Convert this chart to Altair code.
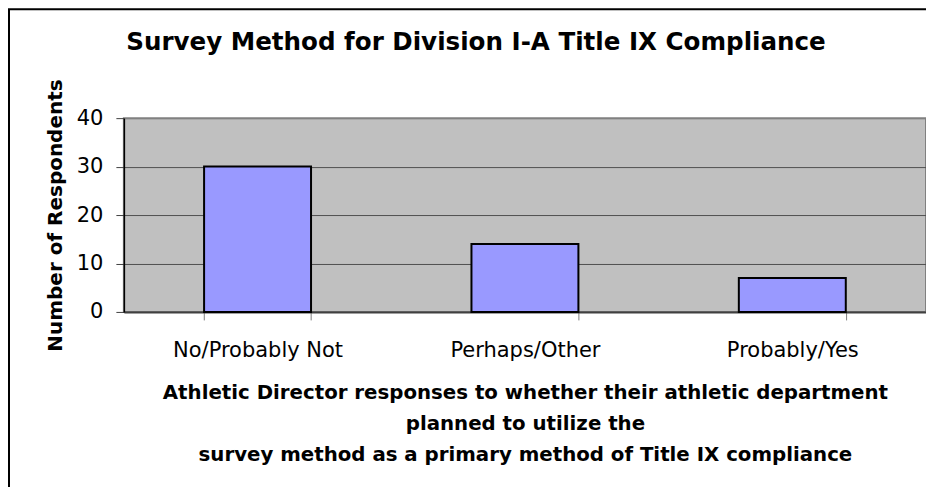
import altair as alt
import pandas as pd

categories = ["No/Probably Not", "Perhaps/Other", "Probably/Yes"]
respondents = [30, 14, 7]
y_ticks = [0, 10, 20, 30, 40]

title_text = "Survey Method for Division I-A Title IX Compliance"
x_title_lines = [
    "Athletic Director responses to whether their athletic department",
    "planned to utilize the",
    "survey method as a primary method of Title IX compliance",
]
y_title_text = "Number of Respondents"

df = pd.DataFrame({"category": categories, "respondents": respondents})

W, H = 803, 194
FONT = "DejaVu Sans"

bars = alt.Chart(df).mark_bar(color="#9999FF", stroke="black", strokeWidth=2).encode(
    x=alt.X(
        "category:N",
        sort=categories,
        scale=alt.Scale(paddingInner=0.6, paddingOuter=0.3),
        axis=alt.Axis(
            title=x_title_lines,
            labelAngle=0,
            labelFont=FONT,
            labelFontSize=21,
            labelColor="black",
            labelPadding=20,
            labelBaseline="top",
            tickBand="extent",
            tickSize=8,
            tickColor="#808080",
            domainColor="#404040",
            domainWidth=2,
            titleFont=FONT,
            titleFontSize=19.8,
            titleFontWeight="bold",
            titleLineHeight=31,
            titleX=W / 2,
            titleY=87,
            titleBaseline="alphabetic",
            titleAlign="center",
            titleColor="black",
        ),
    ),
    y=alt.Y(
        "respondents:Q",
        scale=alt.Scale(domain=[0, 40]),
        axis=alt.Axis(
            values=y_ticks,
            title=y_title_text,
            grid=True,
            gridColor=alt.condition("datum.value >= 40", alt.value("#808080"), alt.value("#505050")),
            gridWidth=1,
            tickSize=8,
            tickColor="#404040",
            domainColor="black",
            domainWidth=1.5,
            labelFont=FONT,
            labelFontSize=21,
            labelPadding=13,
            labelColor="black",
            titleFont=FONT,
            titleFontSize=20,
            titleFontWeight="bold",
            titleColor="black",
            titleX=-62,
            titleY=H / 2,
            titleBaseline="alphabetic",
            titleAlign="center",
        ),
    ),
)

border = alt.Chart(alt.Data(values=[{}])).mark_rect(
    fillOpacity=0, stroke="black", strokeWidth=2
).encode(
    x=alt.value(-115), x2=alt.value(W + 40), y=alt.value(-109), y2=alt.value(H + 300)
)

chart = alt.layer(bars, border).properties(
    width=W,
    height=H,
    title=alt.TitleParams(
        text=title_text,
        font=FONT,
        fontSize=24.6,
        fontWeight="bold",
        anchor="middle",
        dx=-49,
        offset=-66,
        baseline="alphabetic",
        color="black",
    ),
    autosize=alt.AutoSizeParams(type="none"),
    padding={"left": 116, "top": 110, "right": 0, "bottom": 175},
).configure(
    background="white"
).configure_view(
    fill="#C0C0C0", stroke="#808080", strokeWidth=2
)

chart.save("out.html", embed_options={"renderer": "svg", "actions": False})
